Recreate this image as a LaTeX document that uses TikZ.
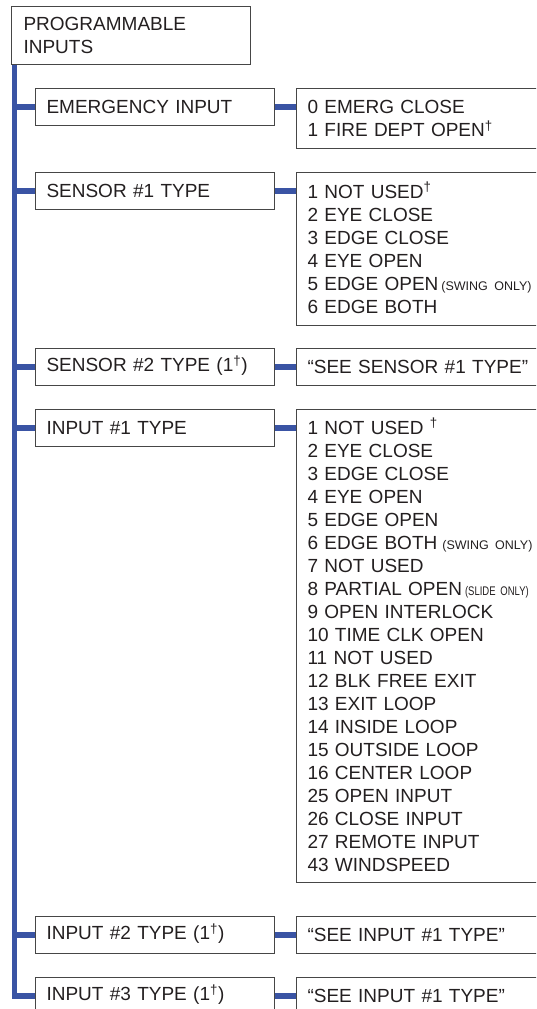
\documentclass[tikz,border=0pt]{standalone}
\usepackage{fontspec}
\setmainfont{Liberation Sans}
\usetikzlibrary{positioning}
\definecolor{linkblue}{RGB}{58,84,164}
\definecolor{textgray}{RGB}{35,31,32}
\definecolor{boxgray}{RGB}{70,70,70}
\newcommand{\swingnote}[1]{{\fontsize{12.5}{23}\selectfont #1}}
\newcommand{\slidenote}[1]{\scalebox{0.76}[1]{\fontsize{12.5}{23}\selectfont #1}}
\newcommand{\dg}{\textsuperscript{†}}
\tikzset{
  menubox/.style={draw=boxgray, line width=1pt, anchor=north west,
    minimum width=239pt, minimum height=37pt, text width=217pt,
    inner xsep=11pt, inner ysep=0pt, text height=13.6pt, align=left,
    text=textgray, font=\fontsize{19}{23}\selectfont},
  optbox/.style={menubox, minimum width=270pt, text width=248pt},
  link/.style={draw=linkblue, line width=5.5pt},
}

\begin{document}
\begin{tikzpicture}[x=1pt, y=-1pt]
  \useasboundingbox (0,0) rectangle (536,1009);
  \clip (0,0) rectangle (536,1009);

  % menu column
  \node[menubox, minimum height=58pt, inner xsep=12pt, text width=215pt] (prog) at (11,6) {PROGRAMMABLE\\INPUTS};
  \node[menubox] (emerg) at (35,88) {EMERGENCY INPUT};
  \node[menubox] (sens1) at (35,172) {SENSOR \#1 TYPE};
  \node[menubox] (sens2) at (35,348) {SENSOR \#2 TYPE (1\dg)};
  \node[menubox] (in1) at (35,409) {INPUT \#1 TYPE};
  \node[menubox] (in2) at (35,916) {INPUT \#2 TYPE (1\dg)};
  \node[menubox] (in3) at (35,977) {INPUT \#3 TYPE (1\dg)};

  % option lists
  \node[optbox, right=21pt of emerg.north east, anchor=north west, minimum height=60pt] (emergopt)
    {0 EMERG CLOSE\\1 FIRE DEPT OPEN\dg};
  \node[optbox, right=21pt of sens1.north east, anchor=north west, minimum height=153pt] (sens1opt)
    {1 NOT USED\dg\\2 EYE CLOSE\\3 EDGE CLOSE\\4 EYE OPEN\\
     5 EDGE OPEN\hspace{3pt}\swingnote{(SWING ONLY)}\\6 EDGE BOTH};
  \node[optbox, right=21pt of sens2.north east, anchor=north west] (sens2opt)
    {“SEE SENSOR \#1 TYPE”};
  \node[optbox, right=21pt of in1.north east, anchor=north west, minimum height=473pt] (in1opt)
    {1 NOT USED \dg\\2 EYE CLOSE\\3 EDGE CLOSE\\4 EYE OPEN\\5 EDGE OPEN\\
     6 EDGE BOTH\hspace{5pt}\swingnote{(SWING ONLY)}\\7 NOT USED\\
     8 PARTIAL OPEN\hspace{3pt}\slidenote{(SLIDE ONLY)}\\9 OPEN INTERLOCK\\
     10 TIME CLK OPEN\\11 NOT USED\\12 BLK FREE EXIT\\13 EXIT LOOP\\
     14 INSIDE LOOP\\15 OUTSIDE LOOP\\16 CENTER LOOP\\25 OPEN INPUT\\
     26 CLOSE INPUT\\27 REMOTE INPUT\\43 WINDSPEED};
  \node[optbox, right=21pt of in2.north east, anchor=north west] (in2opt)
    {“SEE INPUT \#1 TYPE”};
  \node[optbox, right=21pt of in3.north east, anchor=north west] (in3opt)
    {“SEE INPUT \#1 TYPE”};

  % blue trunk and branches
  \coordinate (trunk) at ([xshift=3.5pt]prog.south west);
  \draw[link] (trunk) |- (in3.west);
  \draw[link] (trunk |- emerg.west) -- (emerg.west);
  \draw[link] (trunk |- sens1.west) -- (sens1.west);
  \draw[link] (trunk |- sens2.west) -- (sens2.west);
  \draw[link] (trunk |- in1.west) -- (in1.west);
  \draw[link] (trunk |- in2.west) -- (in2.west);

  \draw[link] (emerg.east) -- (emerg.east -| emergopt.west);
  \draw[link] (sens1.east) -- (sens1.east -| sens1opt.west);
  \draw[link] (sens2.east) -- (sens2opt.west);
  \draw[link] (in1.east) -- (in1.east -| in1opt.west);
  \draw[link] (in2.east) -- (in2opt.west);
  \draw[link] (in3.east) -- (in3opt.west);
\end{tikzpicture}
\end{document}
